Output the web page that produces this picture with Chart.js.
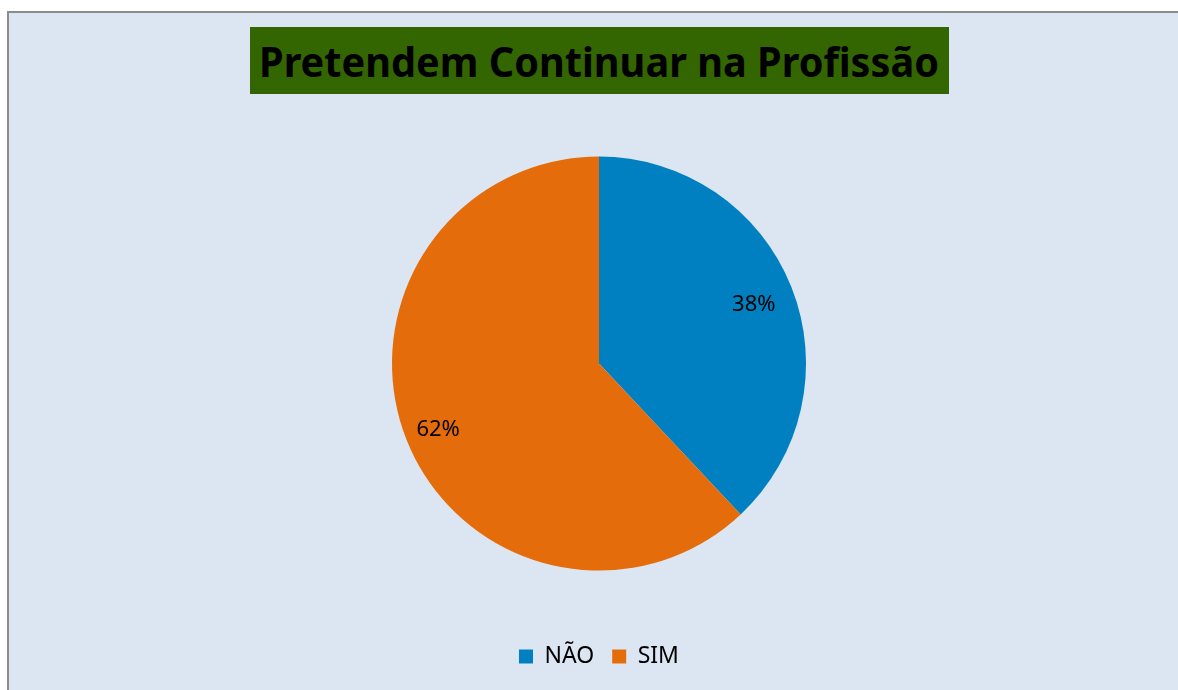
<!DOCTYPE html>
<html>
<head>
<meta charset="utf-8">
<script src="https://cdn.jsdelivr.net/npm/chart.js@4"></script>
<style>
  html, body { margin: 0; padding: 0; background: #ffffff; }
  body { width: 1178px; height: 690px; overflow: hidden; position: relative; }
  #frame {
    position: absolute; left: 7px; top: 11px; width: 1180px; height: 690px;
    background: #dce6f2; border-left: 2px solid #8c8c8c; border-top: 2px solid #8c8c8c;
  }
  #title {
    position: absolute; left: 250px; top: 27px; width: 699px; height: 67px;
    background: #336600; overflow: hidden;
  }
  #title span {
    position: absolute; left: 9px; top: 5px; white-space: nowrap;
    font-family: "Noto Sans", sans-serif; font-weight: bold; font-size: 42px;
    color: #000; transform-origin: 0 0;
  }
  #chart { position: absolute; left: 0; top: 0; }
</style>
</head>
<body>
<div id="frame"></div>
<div id="title"><span id="titleText">Pretendem Continuar na Profissão</span></div>
<canvas id="chart" width="1178" height="690"></canvas>
<script>
const categories = ['NÃO', 'SIM'];
const percentValues = [38, 62];
const sliceColors = ['#0080c0', '#e46c0a'];

// squeeze the title to the width of the green box
const titleSpan = document.getElementById('titleText');
const targetWidth = 680;
const w = titleSpan.getBoundingClientRect().width;
titleSpan.style.transform = 'scaleX(' + (targetWidth / w) + ')';

// percent labels inside the slices
const sliceLabels = {
    id: 'sliceLabels',
    afterDatasetsDraw(chart) {
        const ctx = chart.ctx;
        const meta = chart.getDatasetMeta(0);
        ctx.save();
        ctx.font = '22px "Noto Sans", sans-serif';
        ctx.fillStyle = '#000';
        ctx.textAlign = 'center';
        ctx.textBaseline = 'middle';
        meta.data.forEach((arc, i) => {
            const p = arc.getProps(['x', 'y', 'startAngle', 'endAngle', 'outerRadius']);
            const mid = (p.startAngle + p.endAngle) / 2;
            const r = p.outerRadius * 0.82;
            ctx.fillText(percentValues[i] + '%', p.x + Math.cos(mid) * r - 3, p.y + Math.sin(mid) * r + 4);
        });
        ctx.restore();
    }
};

new Chart(document.getElementById('chart'), {
    type: 'pie',
    data: {
        labels: categories,
        datasets: [{
            data: percentValues,
            backgroundColor: sliceColors,
            borderWidth: 0,
            radius: 207
        }]
    },
    options: {
        responsive: false,
        animation: false,
        layout: { padding: { left: 20, right: 0, top: 100, bottom: 12 } },
        plugins: {
            title: { display: false },
            tooltip: { enabled: false },
            legend: {
                position: 'bottom',
                labels: {
                    boxWidth: 14,
                    boxHeight: 14,
                    padding: 18,
                    color: '#000',
                    font: { family: 'Noto Sans', size: 23 }
                }
            }
        }
    },
    plugins: [sliceLabels]
});
</script>
</body>
</html>
